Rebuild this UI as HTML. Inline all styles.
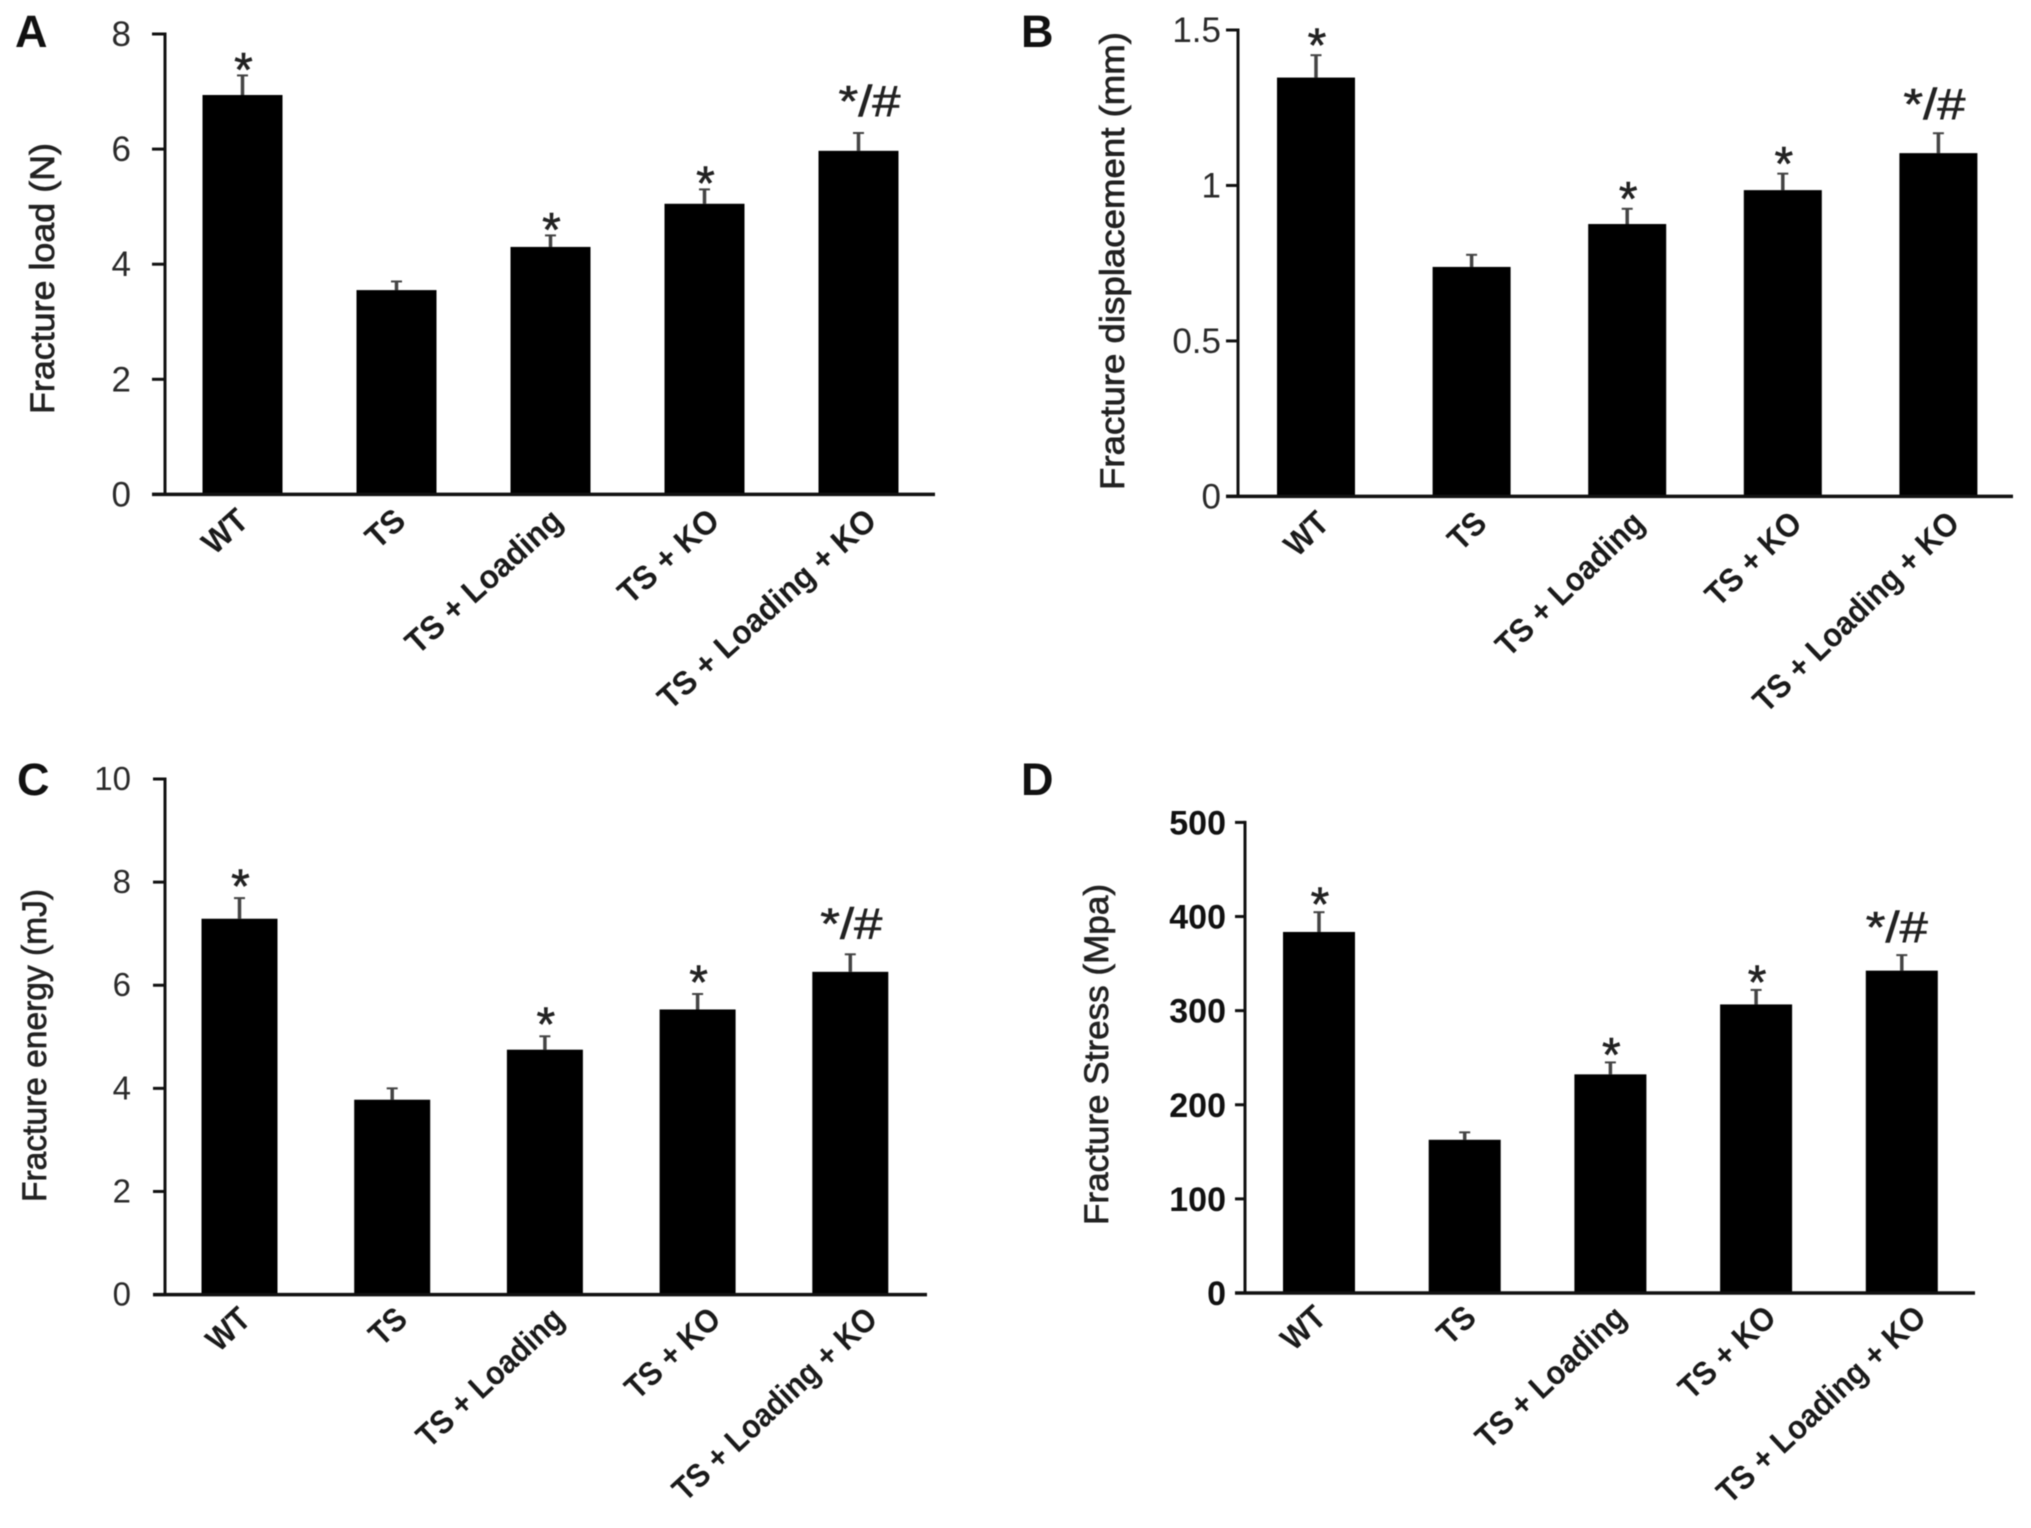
<!DOCTYPE html>
<html lang="en">
<head>
<meta charset="utf-8">
<title>Fracture mechanics bar charts</title>
<style>
html,body{margin:0;padding:0;background:#fff;}
svg{display:block;filter:blur(0.6px);}
text{font-family:"Liberation Sans",sans-serif;}
</style>
</head>
<body>
<svg id="figure" xmlns="http://www.w3.org/2000/svg" width="2031" height="1528" viewBox="0 0 2031 1528">
<rect x="0" y="0" width="2031" height="1528" fill="#fff"/>
</svg>
<script>
const categories = ['WT', 'TS', 'TS + Loading', 'TS + KO', 'TS + Loading + KO'];
const significance = ['*', '', '*', '*', '*/#'];

const loadValues = [6.94, 3.55, 4.3, 5.05, 5.97];
const loadErrorTops = [7.28, 3.7, 4.5, 5.3, 6.28];
const loadTicks = ['0', '2', '4', '6', '8'];

const displacementValues = [1.347, 0.738, 0.876, 0.985, 1.104];
const displacementErrorTops = [1.419, 0.777, 0.925, 1.038, 1.168];
const displacementTicks = ['0', '0.5', '1', '1.5'];

const energyValues = [7.29, 3.78, 4.75, 5.53, 6.26];
const energyErrorTops = [7.69, 4.0, 5.01, 5.83, 6.6];
const energyTicks = ['0', '2', '4', '6', '8', '10'];

const stressValues = [383.6, 162.8, 232.3, 306.6, 342.5];
const stressErrorTops = [404.6, 170.7, 245, 322, 359];
const stressTicks = ['0', '100', '200', '300', '400', '500'];

const svg = document.getElementById('figure');
const NS = 'http://www.w3.org/2000/svg';

function make(tag, parent, attrs, content) {
  const el = document.createElementNS(NS, tag);
  for (const k in attrs) el.setAttribute(k, attrs[k]);
  if (content !== undefined) el.textContent = content;
  parent.appendChild(el);
  return el;
}

function drawPanel(p) {
  const g = make('g', svg, {});
  
  

  const domainMax = Math.max.apply(null, p.ticks.map(Number));
  const yScale = v => p.y0 - (p.y0 - p.yTop) * v / domainMax;
  const xScale = i => p.xFirst + p.pitch * i;

  const letter = make('text', g, {x: p.letterX, y: p.letterY, 'font-size': 45, 'font-weight': 'bold', fill: '#111'}, p.letter);
  
  

  const title = make('text', g, {
    x: 0, y: 0, 'font-size': 34, fill: '#222', stroke: '#222', 'stroke-width': 0.7,
    transform: 'translate(' + p.titleX + ',' + p.titleBottom + ') rotate(-90)',
    textLength: p.titleLength, lengthAdjust: 'spacingAndGlyphs'
  }, p.title);
  
  

  p.values.forEach((v, i) => {
    const cx = xScale(i);
    const top = yScale(v);
    const errTop = yScale(p.errorTops[i]);

    const stem = make('line', g, {x1: cx, x2: cx, y1: top, y2: errTop, stroke: '#444', 'stroke-width': 3.5});
    
    

    const cap = make('line', g, {x1: cx - 5.5, x2: cx + 5.5, y1: errTop, y2: errTop, stroke: '#444', 'stroke-width': 2});
    
    

    const bar = make('rect', g, {x: cx - p.barWidth / 2, y: top, width: p.barWidth, height: p.y0 - top, fill: '#000'});
    
    

    const mark = significance[i];
    if (mark === '*') {
      const star = make('text', g, {x: cx + 1, y: errTop - p.starGap + 0.57 * 48, 'text-anchor': 'middle', 'font-size': 48, fill: '#222', stroke: '#222', 'stroke-width': 0.6}, mark);
      
      
    } else if (mark) {
      const both = make('text', g, {x: cx + p.comboDx, y: errTop - p.comboGap, 'text-anchor': 'middle', 'font-size': 44, fill: '#222', stroke: '#222', 'stroke-width': 0.6, textLength: 62, lengthAdjust: 'spacingAndGlyphs'}, mark);
      
      
    }

    const label = make('text', g, {
      x: 0, y: 0, 'text-anchor': 'end', 'font-size': 33, 'font-weight': 'bold', fill: '#1a1a1a',
      transform: 'translate(' + (cx + p.catDx + p.catSpread * i) + ',' + (p.y0 + p.catDy) + ') rotate(' + (-p.catAngle) + ') scale(' + p.catScale + ',1)'
    }, categories[i]);
    
    
  });

  const yAxis = make('line', g, {x1: p.axisX, x2: p.axisX, y1: p.yTop - 1.5, y2: p.y0, stroke: '#111', 'stroke-width': 3});
  
  

  const xAxis = make('line', g, {x1: p.axisX - p.tickLen, x2: p.xEnd, y1: p.y0, y2: p.y0, stroke: '#111', 'stroke-width': 3.5});
  
  

  p.ticks.forEach(t => {
    const y = yScale(Number(t));
    const tick = make('line', g, {x1: p.axisX - p.tickLen, x2: p.axisX, y1: y, y2: y, stroke: '#111', 'stroke-width': 3});
    
    

    const attrs = {x: p.tickRight, y: y + p.tickBase, 'text-anchor': 'end', 'font-size': p.tickSize, fill: p.tickBold ? '#111' : '#2a2a2a', 'font-weight': p.tickBold ? 'bold' : 'normal'};
    const lab = make('text', g, attrs, t);
    
    
  });
}

drawPanel({
  letter: 'A', letterX: 15, letterY: 47,
  title: 'Fracture load (N)', titleX: 54, titleBottom: 414, titleLength: 271,
  values: loadValues, errorTops: loadErrorTops, ticks: loadTicks,
  xFirst: 242.5, pitch: 154, barWidth: 80, y0: 494.4, yTop: 34, axisX: 165, xEnd: 935, tickLen: 13,
  tickRight: 131, tickSize: 35, tickBase: 12, tickBold: false,
  catScale: 0.95, catAngle: 42, catDx: 8, catSpread: 3, catDy: 29, starGap: 17, comboDx: 11, comboGap: 17
});
drawPanel({
  letter: 'B', letterX: 1021, letterY: 47,
  title: 'Fracture displacement (mm)', titleX: 1124, titleBottom: 490, titleLength: 458,
  values: displacementValues, errorTops: displacementErrorTops, ticks: displacementTicks,
  xFirst: 1316, pitch: 155.6, barWidth: 78, y0: 496.4, yTop: 30, axisX: 1238, xEnd: 2013, tickLen: 12,
  tickRight: 1221, tickSize: 35, tickBase: 12, tickBold: false,
  catScale: 0.92, catAngle: 44, catDx: 15, catSpread: 2, catDy: 29, starGap: 21, comboDx: -4, comboGap: 14
});
drawPanel({
  letter: 'C', letterX: 17, letterY: 795,
  title: 'Fracture energy (mJ)', titleX: 46, titleBottom: 1202, titleLength: 313,
  values: energyValues, errorTops: energyErrorTops, ticks: energyTicks,
  xFirst: 239.5, pitch: 152.7, barWidth: 76, y0: 1294.6, yTop: 779, axisX: 165, xEnd: 927, tickLen: 12,
  tickRight: 131, tickSize: 33, tickBase: 11, tickBold: false,
  catScale: 0.9, catAngle: 43, catDx: 13, catSpread: 4, catDy: 27, starGap: 23, comboDx: 1, comboGap: 16
});
drawPanel({
  letter: 'D', letterX: 1021, letterY: 795,
  title: 'Fracture Stress (Mpa)', titleX: 1108, titleBottom: 1225, titleLength: 341,
  values: stressValues, errorTops: stressErrorTops, ticks: stressTicks,
  xFirst: 1319, pitch: 145.7, barWidth: 72, y0: 1293, yTop: 822.4, axisX: 1245, xEnd: 1975, tickLen: 10,
  tickRight: 1226, tickSize: 34, tickBase: 12, tickBold: true,
  catScale: 0.92, catAngle: 43, catDx: 9, catSpread: 4.3, catDy: 27, starGap: 19, comboDx: -5, comboGap: 13
});
</script>
</body>
</html>
